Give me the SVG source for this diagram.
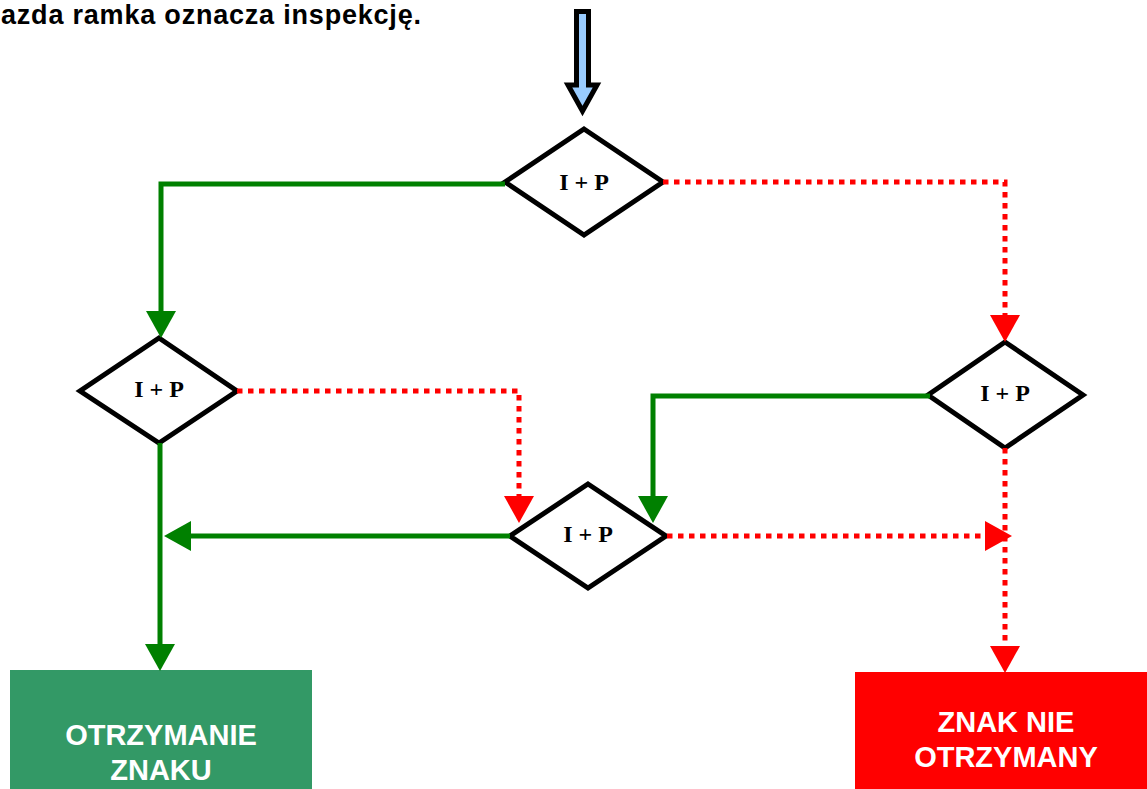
<svg xmlns="http://www.w3.org/2000/svg" width="1147" height="789" viewBox="0 0 1147 789">
  <style>
    .dia { fill: #fff; stroke: #000; stroke-width: 5; stroke-linejoin: miter; }
    .dtxt { font-family: "Liberation Serif", "Times New Roman", serif; font-weight: bold; font-size: 24px; fill: #000; text-anchor: middle; }
    .btxt { font-family: "Liberation Sans", Arial, sans-serif; font-weight: bold; font-size: 29px; fill: #fff; text-anchor: middle; }
    .title { font-family: "Liberation Sans", Arial, sans-serif; font-weight: bold; font-size: 27px; fill: #000; }
    .gline { fill: none; stroke: #008000; stroke-width: 5; marker-end: url(#ga); }
    .rline { fill: none; stroke: #FF0000; stroke-width: 5; stroke-dasharray: 5.5 5.5; marker-end: url(#ra); }
  </style>
  <defs>
    <marker id="ga" markerUnits="userSpaceOnUse" markerWidth="28" markerHeight="30" refX="0" refY="15" orient="auto" viewBox="0 0 28 30">
      <path d="M0,0 L27,15 L0,30 z" fill="#008000"/>
    </marker>
    <marker id="ra" markerUnits="userSpaceOnUse" markerWidth="28" markerHeight="30" refX="0" refY="15" orient="auto" viewBox="0 0 28 30">
      <path d="M0,0 L27,15 L0,30 z" fill="#FF0000"/>
    </marker>
  </defs>
  <rect width="1147" height="789" fill="#fff"/>

  <text class="title" x="1" y="24" textLength="420" lengthAdjust="spacing">azda ramka oznacza inspekcję.</text>

  <g id="start-arrow">
    <polygon points="576.5,11.5 588.5,11.5 588.5,85 597,85 582.5,111 568,85 576.5,85" fill="#99CCFF" stroke="#000" stroke-width="5" stroke-linejoin="miter"/>
  </g>

  <g id="node-d1">
    <polygon class="dia" points="584,129 663,182 584,235 505,182"/>
    <text class="dtxt" x="584" y="190">I + P</text>
  </g>
  <g id="node-d2">
    <polygon class="dia" points="159,338 237,391 159,443 80,391"/>
    <text class="dtxt" x="159" y="397">I + P</text>
  </g>
  <g id="node-d3">
    <polygon class="dia" points="1005,342 1083,395 1005,448 928,395"/>
    <text class="dtxt" x="1005" y="401">I + P</text>
  </g>
  <g id="node-d4">
    <polygon class="dia" points="588,484 666,536 588,588 510,536"/>
    <text class="dtxt" x="588" y="542">I + P</text>
  </g>

  <g id="node-ok">
    <rect x="10" y="670" width="302" height="125" fill="#339966"/>
    <text class="btxt" x="161" y="745">OTRZYMANIE</text>
    <text class="btxt" x="161" y="780">ZNAKU</text>
  </g>
  <g id="node-fail">
    <rect x="855" y="672" width="300" height="125" fill="#FF0000"/>
    <text class="btxt" x="1006" y="732">ZNAK NIE</text>
    <text class="btxt" x="1006" y="767">OTRZYMANY</text>
  </g>

  <g id="connectors">
    <polyline class="gline" points="505,184 161,184 161,311"/>
    <polyline class="gline" points="160,443 160,644"/>
    <polyline class="gline" points="510,536 191,536"/>
    <polyline class="gline" points="930,396 653,396 653,496"/>
    <polyline class="rline" points="663,182 1005,182 1005,315"/>
    <polyline class="rline" points="237,391 519,391 519,496"/>
    <polyline class="rline" points="667,536 985,536"/>
    <polyline class="rline" points="1005,448 1005,646"/>
  </g>
</svg>
